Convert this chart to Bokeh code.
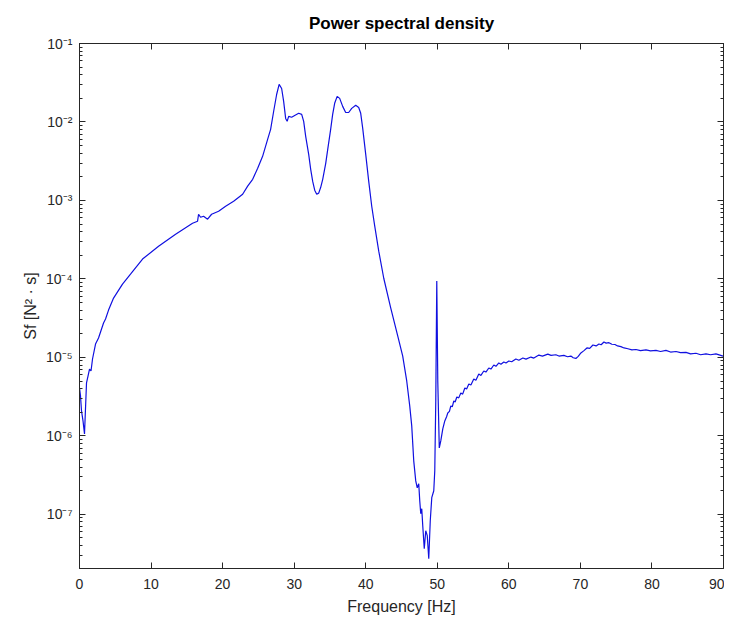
from bokeh.plotting import figure
from bokeh.models import (LogAxis, LinearAxis, FixedTicker, CustomJSTickFormatter,
                          Range1d, ColumnDataSource)
from bokeh.embed import file_html
from bokeh.resources import INLINE

# ---- data ----
freq = [0.00, 0.14, 0.28, 0.49, 0.70, 0.98, 1.19, 1.40, 1.61, 1.82, 2.24, 2.66, 2.94,
        3.36, 3.64, 4.06, 4.76, 6.01, 7.13, 8.81, 11.05, 13.43, 15.80, 16.50, 16.64,
        16.92, 17.34, 17.90, 18.46, 19.44, 20.42, 21.54, 22.80, 23.50, 24.20, 24.90,
        25.59, 26.29, 26.71, 27.13, 27.55, 27.90, 28.25, 28.53, 28.81, 29.02, 29.23,
        29.65, 30.07, 30.63, 31.05, 31.33, 31.61, 32.03, 32.31, 32.59, 32.87, 33.15,
        33.43, 33.71, 33.99, 34.41, 34.69, 35.10, 35.38, 35.66, 36.01, 36.36, 36.78,
        37.20, 37.62, 38.04, 38.60, 39.02, 39.30, 39.58, 40.00, 40.42, 40.84, 41.26,
        41.82, 42.52, 43.50, 44.48, 45.17, 45.73, 46.15, 46.43, 46.71, 46.99, 47.20,
        47.41, 47.55, 47.69, 47.83, 47.97, 48.18, 48.39, 48.60, 48.81, 49.02, 49.23,
        49.51, 49.65, 49.79, 49.93, 50.07, 50.28,
        50.49, 50.77, 51.05, 51.30, 51.47, 51.70, 51.89, 52.10, 52.31, 52.50, 52.73,
        53.00, 53.29, 53.55, 53.85, 54.10, 54.41, 54.70, 55.10, 55.40, 55.80, 56.10,
        56.50, 56.80, 57.20, 57.50, 57.90, 58.20, 58.60, 58.90, 59.30, 59.60, 60.00,
        60.40, 60.98, 61.40, 61.96, 62.40, 63.08, 63.50, 64.20, 64.70, 65.45, 65.90,
        66.57, 67.00, 67.69, 68.20, 68.67, 69.00, 69.37, 69.70, 70.07, 70.50, 70.91,
        71.30, 71.75, 72.20, 72.59, 72.90, 73.29, 73.60, 73.99, 74.40, 74.83, 75.20,
        75.66, 76.10, 76.64, 77.20, 77.76, 78.40, 79.16, 79.80, 80.56, 81.20, 81.96,
        82.60, 83.36, 84.00, 84.76, 85.40, 86.15, 86.80, 87.55, 88.20, 88.95, 89.50,
        89.93]
psd = [4.08e-6, 3.23e-6, 2.08e-6, 1.55e-6, 1.06e-6, 4.72e-6, 5.79e-6, 7.11e-6, 6.71e-6,
       9.54e-6, 1.48e-5, 1.77e-5, 2.11e-5, 2.74e-5, 3.08e-5, 4.01e-5, 5.70e-5, 8.60e-5,
       1.15e-4, 1.79e-4, 2.61e-4, 3.72e-4, 5.13e-4, 5.44e-4, 6.67e-4, 6.11e-4, 6.30e-4,
       5.77e-4, 6.67e-4, 7.29e-4, 8.44e-4, 9.77e-4, 1.20e-3, 1.52e-3, 1.86e-3, 2.57e-3,
       3.65e-3, 6.01e-3, 8.05e-3, 1.36e-2, 2.24e-2, 3.01e-2, 2.67e-2, 1.83e-2, 1.11e-2,
       1.02e-2, 1.18e-2, 1.15e-2, 1.21e-2, 1.29e-2, 1.25e-2, 1.02e-2, 6.56e-3, 3.87e-3,
       2.49e-3, 1.75e-3, 1.35e-3, 1.20e-3, 1.24e-3, 1.47e-3, 1.86e-3, 2.97e-3, 4.48e-3,
       8.05e-3, 1.25e-2, 1.73e-2, 2.12e-2, 2.00e-2, 1.58e-2, 1.32e-2, 1.32e-2, 1.49e-2,
       1.63e-2, 1.53e-2, 1.29e-2, 8.29e-3, 3.87e-3, 1.75e-3, 8.44e-4, 4.70e-4, 2.26e-4,
       1.02e-4, 4.25e-5, 1.87e-5, 1.04e-5, 5.01e-6, 2.41e-6, 1.34e-6, 4.81e-7, 2.67e-7,
       2.18e-7, 2.45e-7, 1.49e-7, 1.02e-7, 1.18e-7, 7.16e-8, 3.65e-8, 6.18e-8, 5.35e-8,
       2.72e-8, 8.30e-8, 1.63e-7, 2.00e-7, 3.59e-7, 2.79e-6, 9.38e-5, 5.01e-6, 7.03e-7,
       8.63e-7, 1.23e-6, 1.55e-6, 1.75e-6, 1.96e-6, 2.05e-6, 2.41e-6, 2.35e-6, 2.79e-6,
       2.70e-6, 3.13e-6, 3.05e-6, 3.52e-6, 3.40e-6, 4.08e-6, 3.95e-6, 4.59e-6, 4.45e-6,
       5.31e-6, 5.10e-6, 6.15e-6, 5.90e-6, 6.71e-6, 6.50e-6, 7.33e-6, 7.10e-6, 8.00e-6,
       7.70e-6, 8.49e-6, 8.20e-6, 8.74e-6, 8.50e-6, 9.00e-6, 8.80e-6, 9.54e-6, 9.20e-6,
       9.82e-6, 9.50e-6, 1.01e-5, 9.80e-6, 1.07e-5, 1.04e-5, 1.10e-5, 1.06e-5, 1.08e-5,
       1.04e-5, 1.06e-5, 1.02e-5, 1.04e-5, 9.90e-6, 9.70e-6, 1.03e-5, 1.14e-5, 1.22e-5,
       1.32e-5, 1.30e-5, 1.44e-5, 1.40e-5, 1.48e-5, 1.45e-5, 1.57e-5, 1.52e-5, 1.54e-5,
       1.47e-5, 1.46e-5, 1.40e-5, 1.37e-5, 1.32e-5, 1.29e-5, 1.25e-5, 1.26e-5, 1.22e-5,
       1.25e-5, 1.21e-5, 1.23e-5, 1.19e-5, 1.23e-5, 1.17e-5, 1.19e-5, 1.15e-5, 1.16e-5,
       1.11e-5, 1.13e-5, 1.08e-5, 1.11e-5, 1.08e-5, 1.11e-5, 1.07e-5, 1.04e-5]
x_ticks = [0, 10, 20, 30, 40, 50, 60, 70, 80, 90]
y_exponents = [-7, -6, -5, -4, -3, -2, -1]
title_text = "Power spectral density"
x_label = "Frequency [Hz]"
y_label = "Sf [N\u00b2 \u00b7 s]"

# ---- derived ticks ----
y_major = [10.0 ** e for e in y_exponents]
y_minor = [m * 10.0 ** e for e in range(-8, -1) for m in range(2, 10)]

FONT = "Liberation Sans"
AX = "#262626"

p = figure(width=724, height=617, y_axis_type="log", output_backend="svg",
           toolbar_location=None, x_axis_location=None, y_axis_location=None,
           x_range=Range1d(0, 90), y_range=Range1d(10 ** -7.69, 0.1),
           min_border_left=79, min_border_right=1, min_border_top=42,
           min_border_bottom=49)
p.title.text = title_text
p.title.align = "center"
p.title.text_font = FONT
p.title.text_font_size = "17px"
p.title.text_font_style = "bold"
p.title.text_color = "black"
p.title.offset = 0
p.title.standoff = 22
p.grid.visible = False
p.outline_line_color = AX
p.outline_line_width = 1
p.background_fill_color = "white"
p.border_fill_color = "white"

src = ColumnDataSource(data=dict(f=freq, s=psd))
p.line("f", "s", source=src, line_color="#1010e0", line_width=1.2)

sup_js = """
const m = {'-':'\u207b','0':'\u2070','1':'\u00b9','2':'\u00b2','3':'\u00b3','4':'\u2074',
           '5':'\u2075','6':'\u2076','7':'\u2077','8':'\u2078','9':'\u2079'};
const e = Math.round(Math.log10(tick));
return '10' + String(e).split('').map(c => m[c]).join('');
"""
blank_js = "return '';"

def style(ax, labels=True):
    ax.axis_line_color = AX
    ax.major_tick_line_color = AX
    ax.minor_tick_line_color = AX
    ax.major_tick_in = 6
    ax.major_tick_out = 0
    ax.minor_tick_in = 3
    ax.minor_tick_out = 0
    ax.major_label_text_font = FONT
    ax.major_label_text_font_size = "14px"
    ax.major_label_text_color = AX
    ax.axis_label_text_font = FONT
    ax.axis_label_text_font_size = "16px"
    ax.axis_label_text_font_style = "normal"
    ax.axis_label_text_color = AX
    if not labels:
        ax.major_label_standoff = 0
        ax.major_label_text_font_size = "0px"

# bottom
xb = LinearAxis(ticker=FixedTicker(ticks=x_ticks), axis_label=x_label)
style(xb)
xb.minor_tick_line_color = None
xb.major_label_standoff = 10
xb.axis_label_standoff = 6
p.add_layout(xb, "below")
# top
xt = LinearAxis(ticker=FixedTicker(ticks=x_ticks),
                formatter=CustomJSTickFormatter(code=blank_js))
style(xt, labels=False)
xt.minor_tick_line_color = None
p.add_layout(xt, "above")
# left
yl = LogAxis(ticker=FixedTicker(ticks=y_major, minor_ticks=y_minor),
             formatter=CustomJSTickFormatter(code=sup_js), axis_label=y_label)
style(yl)
yl.major_label_standoff = 7
yl.axis_label_standoff = 4
p.add_layout(yl, "left")
# right
yr = LogAxis(ticker=FixedTicker(ticks=y_major, minor_ticks=y_minor),
             formatter=CustomJSTickFormatter(code=blank_js))
style(yr, labels=False)
p.add_layout(yr, "right")

open("out.html", "w").write(file_html(p, INLINE))
